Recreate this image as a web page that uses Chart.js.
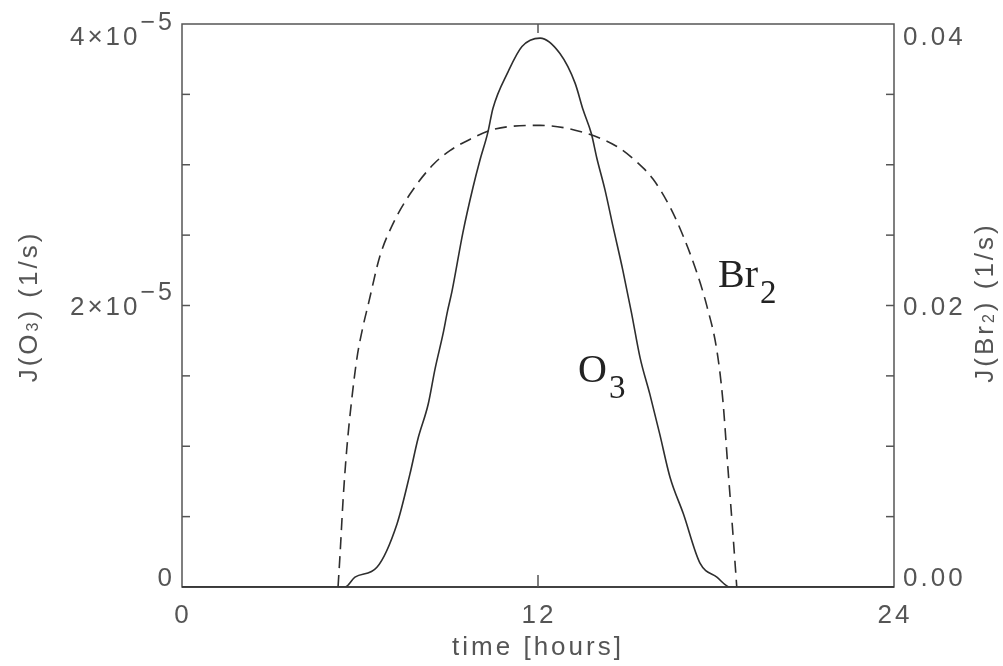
<!DOCTYPE html>
<html>
<head>
<meta charset="utf-8">
<script src="https://cdn.jsdelivr.net/npm/chart.js@4"></script>
<style>
  html, body { margin: 0; background: #fff; }
  #wrap { width: 1003px; height: 666px; }
</style>
</head>
<body>
<div id="wrap"><canvas id="chart" width="1003" height="666"></canvas></div>
<script>
// photolysis frequencies over one day
const hoursO3 = [0, 5.5, 5.83, 6.57, 7.25, 7.68, 7.95, 8.3, 8.53, 8.8, 8.95, 9.1, 9.47, 9.81, 10.04, 10.31, 10.48, 10.99, 11.46, 12.07,
  12.74, 13.25, 13.52, 13.8, 13.98, 14.26, 14.53, 14.86, 15.15, 15.44, 15.77, 16.1, 16.45, 16.9, 17.46, 18.03, 18.47, 24];
const jO3 = [0, 0, 0.07e-5, 0.14e-5, 0.45e-5, 0.80e-5, 1.05e-5, 1.30e-5, 1.55e-5, 1.80e-5, 1.96e-5, 2.10e-5, 2.52e-5, 2.84e-5, 3.03e-5, 3.23e-5, 3.40e-5, 3.66e-5, 3.84e-5, 3.90e-5,
  3.79e-5, 3.58e-5, 3.39e-5, 3.22e-5, 3.05e-5, 2.82e-5, 2.56e-5, 2.25e-5, 1.95e-5, 1.63e-5, 1.37e-5, 1.09e-5, 0.78e-5, 0.52e-5, 0.17e-5, 0.07e-5, 0, 0];

const hoursBr2 = [5.26, 5.33, 5.43, 5.55, 5.72, 5.9, 6.1, 6.27, 6.67, 7.11, 7.68, 8.46, 9.03, 9.7, 10.48, 12.07,
  13.52, 14.66, 15.33, 15.87, 16.45, 16.9, 17.36, 17.7, 18.03, 18.23, 18.4, 18.57, 18.7];
const jBr2 = [0, 0.0024, 0.0062, 0.0097, 0.0133, 0.0163, 0.0185, 0.0200, 0.0235, 0.0258, 0.0279, 0.0300, 0.0310, 0.0318, 0.0325, 0.0328,
  0.0323, 0.0313, 0.0302, 0.0290, 0.0270, 0.0249, 0.0223, 0.0199, 0.0168, 0.0133, 0.0085, 0.0038, 0];

const xTicks = [0, 12, 24];
const xTickLabels = ['0', '12', '24'];
const leftTicks = [0, 2e-5, 4e-5];
const leftTickLabels = [['0', ''], ['2×10', '−5'], ['4×10', '−5']];
const leftMinor = [0.5e-5, 1e-5, 1.5e-5, 2e-5, 2.5e-5, 3e-5, 3.5e-5];
const rightTicks = [0, 0.02, 0.04];
const rightTickLabels = ['0.00', '0.02', '0.04'];
const rightMinor = [0.005, 0.01, 0.015, 0.02, 0.025, 0.03, 0.035];

const INK = '#2e2e2e';
const TEXT = '#555';
const SANS = '"Liberation Sans", Arial, sans-serif';
const SERIF = '"Liberation Serif", "Times New Roman", serif';

function rich(ctx, parts, x, y, align) {
  // parts: [text, fontSize, dy]
  let w = 0;
  parts.forEach(([t, size]) => { ctx.font = `${size}px ${SANS}`; w += ctx.measureText(t).width; });
  let cx = align === 'right' ? x - w : align === 'center' ? x - w / 2 : x;
  parts.forEach(([t, size, dy]) => {
    ctx.font = `${size}px ${SANS}`;
    ctx.fillText(t, cx, y + dy);
    cx += ctx.measureText(t).width;
  });
}

function seg(ctx, x1, y1, x2, y2) {
  ctx.beginPath();
  ctx.moveTo(x1, y1);
  ctx.lineTo(x2, y2);
  ctx.stroke();
}

const frame = {
  id: 'frame',
  afterDatasetsDraw(chart) {
    const { ctx, chartArea: a, scales: { x, y, y1 } } = chart;
    ctx.save();
    ctx.strokeStyle = '#555';
    ctx.lineWidth = 1.5;
    ctx.strokeRect(a.left, a.top, a.right - a.left, a.bottom - a.top);
    ctx.strokeStyle = INK;
    seg(ctx, a.left, a.bottom, a.right, a.bottom);

    ctx.strokeStyle = '#555';
    leftMinor.forEach((v) => { const py = y.getPixelForValue(v); seg(ctx, a.left, py, a.left + 8, py); });
    rightMinor.forEach((v) => { const py = y1.getPixelForValue(v); seg(ctx, a.right - 8, py, a.right, py); });
    xTicks.slice(1, -1).forEach((v) => {
      const px = x.getPixelForValue(v);
      seg(ctx, px, a.bottom, px, a.bottom - 12);
      seg(ctx, px, a.top, px, a.top + 9);
    });

    // tick labels
    ctx.fillStyle = TEXT;
    ctx.textBaseline = 'alphabetic';
    ctx.textAlign = 'left';
    ctx.letterSpacing = '3px';
    const base = (i, n, py) => (i === 0 ? py - 1 : i === n - 1 ? py + 21 : py + 9);
    leftTicks.forEach((v, i) => {
      const by = base(i, leftTicks.length, y.getPixelForValue(v));
      const [m, e] = leftTickLabels[i];
      rich(ctx, [[m, 26, 0], [e, 25, -15]], a.left - 7, by, 'right');
    });
    rightTicks.forEach((v, i) => {
      const by = base(i, rightTicks.length, y1.getPixelForValue(v));
      rich(ctx, [[rightTickLabels[i], 26, 0]], a.right + 9, by, 'left');
    });
    xTicks.forEach((v, i) => {
      rich(ctx, [[xTickLabels[i], 26, 0]], x.getPixelForValue(v) + 1, a.bottom + 36, 'center');
    });
    rich(ctx, [['time [hours]', 26, 0]], (a.left + a.right) / 2, a.bottom + 68, 'center');

    // axis titles
    ctx.save();
    ctx.translate(37, (a.top + a.bottom) / 2 + 1);
    ctx.rotate(-Math.PI / 2);
    rich(ctx, [['J(O', 26, 0], ['3', 16, 1], [') (1/s)', 26, 0]], 0, 0, 'center');
    ctx.restore();
    ctx.save();
    ctx.translate(993, (a.top + a.bottom) / 2 - 3);
    ctx.rotate(-Math.PI / 2);
    rich(ctx, [['J(Br', 26, 0], ['2', 16, 1], [') (1/s)', 26, 0]], 0, 0, 'center');
    ctx.restore();

    // curve labels
    ctx.letterSpacing = '0px';
    ctx.fillStyle = '#222';
    const lab = (main, sub, px, py) => {
      ctx.font = `40px ${SERIF}`;
      ctx.fillText(main, px, py);
      const w = ctx.measureText(main).width;
      ctx.font = `33px ${SERIF}`;
      ctx.fillText(sub, px + w + 2, py + 16);
    };
    lab('Br', '2', x.getPixelForValue(18.07), y1.getPixelForValue(0.0213));
    lab('O', '3', x.getPixelForValue(13.35), y.getPixelForValue(1.46e-5));
    ctx.restore();
  }
};

new Chart(document.getElementById('chart'), {
  type: 'line',
  data: {
    datasets: [
      {
        label: 'O3',
        data: hoursO3.map((h, i) => ({ x: h, y: jO3[i] })),
        yAxisID: 'y',
        borderColor: INK,
        borderWidth: 1.6,
        pointRadius: 0,
        cubicInterpolationMode: 'monotone'
      },
      {
        label: 'Br2',
        data: hoursBr2.map((h, i) => ({ x: h, y: jBr2[i] })),
        yAxisID: 'y1',
        borderColor: INK,
        borderWidth: 1.6,
        borderDash: [12, 7],
        pointRadius: 0,
        cubicInterpolationMode: 'monotone'
      }
    ]
  },
  options: {
    responsive: false,
    animation: false,
    layout: { padding: { left: 182, right: 109, top: 24, bottom: 79 } },
    plugins: { legend: { display: false }, tooltip: { enabled: false } },
    scales: {
      x: { type: 'linear', min: 0, max: 24, display: false },
      y: { min: 0, max: 4e-5, display: false },
      y1: { position: 'right', min: 0, max: 0.04, display: false }
    }
  },
  plugins: [frame]
});
</script>
</body>
</html>
